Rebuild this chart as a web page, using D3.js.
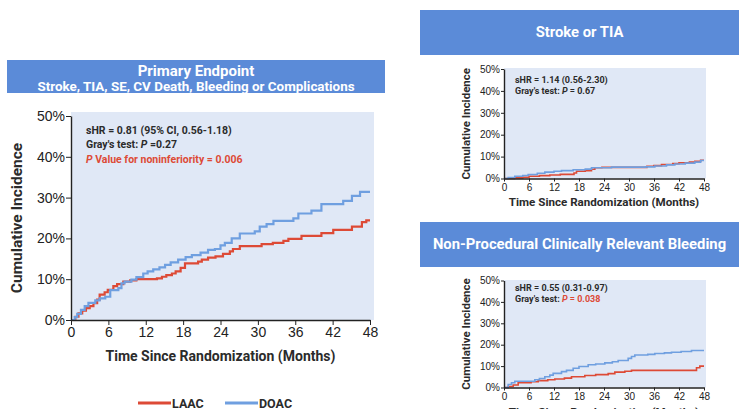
<!DOCTYPE html>
<html>
<head>
<meta charset="utf-8">
<script src="https://cdn.jsdelivr.net/npm/d3@7"></script>
<style>
  body { margin: 0; background: #fff; }
  svg { font-family: Roboto, "Open Sans", sans-serif; }
  .ax path, .ax line { stroke: #222; }
  .ax text { fill: #222; font-weight: 500; }
</style>
</head>
<body>
<div id="chart"></div>
<script>
// ---- data: [month, cumulative incidence %] step points ----
var monthTicks = [0, 6, 12, 18, 24, 30, 36, 42, 48];
var pctTicks = [0, 10, 20, 30, 40, 50];
var seriesNames = ["LAAC", "DOAC"];

var primaryLAAC = [[0,0],[0.7,0.8],[1.2,1.6],[1.8,2.3],[2.4,2.9],[3.0,3.4],[3.6,4.1],[4.2,5.0],[4.6,6.2],[5.4,6.8],[5.9,7.4],[6.8,8.3],[7.4,8.8],[8.4,9.4],[9.5,9.7],[10.5,10.0],[13.8,10.2],[14.6,10.6],[15.3,11.0],[16.2,11.4],[16.8,11.9],[17.6,12.8],[18.3,13.9],[20.4,14.3],[21.0,14.8],[22.0,15.3],[23.2,15.6],[24.4,16.2],[25.5,16.8],[26.0,17.4],[27.1,18.1],[30.6,18.6],[32.4,18.9],[34.1,19.4],[34.9,19.9],[37.0,20.6],[40.2,21.3],[42.1,22.1],[45.1,22.9],[46.7,24.0],[47.4,24.4]];
var primaryDOAC = [[0,0],[0.6,0.7],[1.0,1.5],[1.6,2.5],[2.2,3.4],[2.8,4.2],[3.9,4.8],[4.6,5.3],[5.5,5.7],[6.3,7.3],[7.6,7.8],[8.1,9.0],[8.6,9.4],[9.7,9.9],[10.5,10.5],[11.6,11.4],[12.3,11.9],[13.2,12.4],[14.2,12.9],[15.1,13.5],[16.0,14.1],[17.2,14.8],[18.4,15.4],[19.4,15.9],[20.8,16.5],[22.0,17.2],[23.1,17.4],[24.0,18.3],[24.7,18.9],[25.8,20.0],[27.1,21.2],[29.5,21.7],[30.3,22.9],[31.4,23.5],[32.5,24.3],[35.7,24.9],[36.5,26.1],[38.6,26.8],[40.2,28.4],[43.7,29.2],[45.1,30.4],[46.4,31.4]];

var strokeLAAC = [[0,0],[2.5,0.3],[4.5,0.6],[6.0,1.0],[8.5,1.3],[11.0,1.6],[13.5,1.9],[16.8,2.5],[17.4,3.3],[19.5,3.6],[21.0,4.2],[21.8,4.9],[23.5,5.1],[34.3,5.6],[36.0,5.9],[37.8,6.4],[40.5,6.8],[42.0,7.2],[44.5,7.5],[45.8,7.9],[47.2,8.3]];
var strokeDOAC = [[0,0],[1.0,0.4],[2.6,1.0],[4.5,1.4],[5.8,1.8],[8.0,2.4],[9.8,2.9],[12.0,3.3],[13.8,3.6],[16.6,4.0],[19.5,4.3],[21.0,4.9],[25.8,5.2],[34.0,5.3],[36.2,5.7],[39.0,6.2],[41.0,6.6],[43.5,7.0],[45.8,7.5],[47.2,8.2]];

var bleedLAAC = [[0,0],[1.0,0.5],[2.2,1.2],[3.4,2.3],[6.5,2.7],[8.2,3.2],[10.5,3.6],[12.2,4.0],[14.5,4.4],[16.2,5.0],[19.4,5.6],[22.0,6.0],[25.0,6.5],[26.6,7.2],[29.0,7.6],[30.6,8.0],[46.2,9.2],[47.0,10.0]];
var bleedDOAC = [[0,0],[1.0,1.4],[1.8,2.2],[2.6,2.9],[7.4,3.6],[8.5,4.2],[9.8,5.0],[11.0,5.8],[11.8,6.6],[13.8,7.4],[15.0,8.0],[16.6,9.0],[18.0,9.8],[20.2,10.6],[22.0,11.0],[24.2,11.5],[26.0,12.0],[27.4,12.6],[29.8,13.6],[30.6,14.5],[31.4,15.2],[34.5,15.5],[36.2,15.9],[38.5,16.2],[40.2,16.5],[42.5,16.8],[45.0,17.3]];

var colors = {LAAC: "#dd4a36", DOAC: "#6f9fe0", header: "#5b8bd8", plotBg: "#e0e8f6", text: "#2b2b2b"};

function getPanels(){
    return [
        {title: ["Primary Endpoint", "Stroke, TIA, SE, CV Death, Bleeding or Complications"],
         box: {x: 7, y: 60, w: 378, h: 33}, titleSize: [15, 13.4], titleY: [75.5, 91],
         x0: 71, x1: 370, y0: 320, y1: 116, bgTop: 112, bgRight: 374,
         tickSize: 14, tickLen: 5, yTitleX: 22, yTitleSize: 15.5, xTitleY: 361, xTitleSize: 14,
         lineW: 2.2, data: [primaryLAAC, primaryDOAC],
         notes: [{y: 134, parts: [["sHR = 0.81 (95% CI, 0.56-1.18)", 0, 0]]},
                 {y: 148, parts: [["Gray's test: ", 0, 0], ["P", 1, 0], [" =0.27", 0, 0]]},
                 {y: 163, parts: [["P", 1, 1], [" Value for noninferiority = 0.006", 0, 1]]}],
         noteX: 86, noteSize: 10.5},
        {title: ["Stroke or TIA"], box: {x: 420, y: 10, w: 319, h: 45}, titleSize: [14.8], titleY: [37],
         x0: 504, x1: 704, y0: 178.5, y1: 69, bgTop: 68, bgRight: 706,
         tickSize: 10, tickLen: 3, yTitleX: 470, yTitleSize: 11.5, xTitleY: 206, xTitleSize: 11.6,
         lineW: 1.6, data: [strokeLAAC, strokeDOAC],
         notes: [{y: 83, parts: [["sHR = 1.14 (0.56-2.30)", 0, 0]]},
                 {y: 94, parts: [["Gray's test: ", 0, 0], ["P", 1, 0], [" = 0.67", 0, 0]]}],
         noteX: 515, noteSize: 9},
        {title: ["Non-Procedural Clinically Relevant Bleeding"], box: {x: 420, y: 222, w: 319, h: 45}, titleSize: [14.8], titleY: [249],
         x0: 504, x1: 704, y0: 387.5, y1: 280.5, bgTop: 280, bgRight: 706,
         tickSize: 10, tickLen: 3, yTitleX: 470, yTitleSize: 11.5, xTitleY: 416, xTitleSize: 11.6,
         lineW: 1.6, data: [bleedLAAC, bleedDOAC],
         notes: [{y: 291, parts: [["sHR = 0.55 (0.31-0.97)", 0, 0]]},
                 {y: 302, parts: [["Gray's test: ", 0, 0], ["P", 1, 1], [" = 0.038", 0, 1]]}],
         noteX: 515, noteSize: 9}
    ];
}

function drawPanel(svg, p){
    // header box
    svg.append("rect")
       .attr("x", p.box.x).attr("y", p.box.y)
       .attr("width", p.box.w).attr("height", p.box.h)
       .attr("fill", colors.header)
    p.title.forEach(function(t, i){
        svg.append("text")
           .attr("x", p.box.x + p.box.w / 2)
           .attr("y", p.titleY[i])
           .attr("text-anchor", "middle")
           .attr("font-size", p.titleSize[i])
           .attr("font-weight", "bold")
           .attr("fill", "#fff")
           .text(t)
    })

    let x = d3.scaleLinear().domain([0, 48]).range([p.x0, p.x1]);
    let y = d3.scaleLinear().domain([0, 50]).range([p.y0, p.y1]);

    // plot background
    svg.append("rect")
       .attr("x", p.x0).attr("y", p.bgTop)
       .attr("width", p.bgRight - p.x0).attr("height", p.y0 - p.bgTop)
       .attr("fill", colors.plotBg)

    // curves (step functions), LAAC first then DOAC
    let line = d3.line()
                 .x(d => x(d[0]))
                 .y(d => y(d[1]))
                 .curve(d3.curveStepAfter)
    seriesNames.forEach(function(name, i){
        let pts = p.data[i].slice();
        pts.push([48, pts[pts.length - 1][1]]);
        svg.append("path")
           .datum(pts)
           .attr("d", line)
           .attr("fill", "none")
           .attr("stroke", colors[name])
           .attr("stroke-width", p.lineW)
    })

    // axes
    let yAx = svg.append("g").attr("class", "ax")
                 .attr("transform", `translate(${p.x0},0)`)
                 .call(d3.axisLeft(y).tickValues(pctTicks).tickFormat(d => d + "%").tickSize(p.tickLen).tickSizeOuter(0))
    yAx.selectAll("text").attr("font-size", p.tickSize).attr("x", -p.tickLen - 1).attr("fill", colors.text)
    yAx.select(".domain").attr("stroke-width", 1.4)

    let xAx = svg.append("g").attr("class", "ax")
                 .attr("transform", `translate(0,${p.y0})`)
                 .call(d3.axisBottom(x).tickValues(monthTicks).tickSize(p.tickLen).tickSizeOuter(0))
    xAx.selectAll("text").attr("font-size", p.tickSize).attr("y", p.tickLen + 2).attr("fill", colors.text)
    xAx.select(".domain").attr("stroke-width", 1.4)

    // axis titles
    svg.append("text")
       .attr("transform", `translate(${p.yTitleX},${(p.y0 + p.y1) / 2}) rotate(-90)`)
       .attr("text-anchor", "middle")
       .attr("font-size", p.yTitleSize)
       .attr("font-weight", "bold")
       .attr("fill", colors.text)
       .text("Cumulative Incidence")
    svg.append("text")
       .attr("x", (p.x0 + p.x1) / 2)
       .attr("y", p.xTitleY)
       .attr("text-anchor", "middle")
       .attr("font-size", p.xTitleSize)
       .attr("font-weight", "bold")
       .attr("fill", colors.text)
       .text("Time Since Randomization (Months)")

    // stats notes
    p.notes.forEach(function(n){
        let t = svg.append("text")
                   .attr("x", p.noteX).attr("y", n.y)
                   .attr("font-size", p.noteSize)
                   .attr("font-weight", "bold")
        n.parts.forEach(function(part){
            t.append("tspan")
             .attr("font-style", part[1] ? "italic" : "normal")
             .attr("fill", part[2] ? colors.LAAC : colors.text)
             .text(part[0])
        })
    })
}

function draw(){
    let svg = d3.select("#chart").append("svg")
                .attr("width", 739).attr("height", 409)

    getPanels().forEach(p => drawPanel(svg, p))

    // legend
    let legend = [{name: "LAAC", x: 138}, {name: "DOAC", x: 225}];
    legend.forEach(function(l){
        svg.append("line")
           .attr("x1", l.x).attr("x2", l.x + 33)
           .attr("y1", 403).attr("y2", 403)
           .attr("stroke", colors[l.name]).attr("stroke-width", 3)
        svg.append("text")
           .attr("x", l.x + 34).attr("y", 407.5)
           .attr("font-size", 12.5)
           .attr("font-weight", "bold")
           .attr("fill", colors.text)
           .text(l.name)
    })
}

draw();
</script>
</body>
</html>
